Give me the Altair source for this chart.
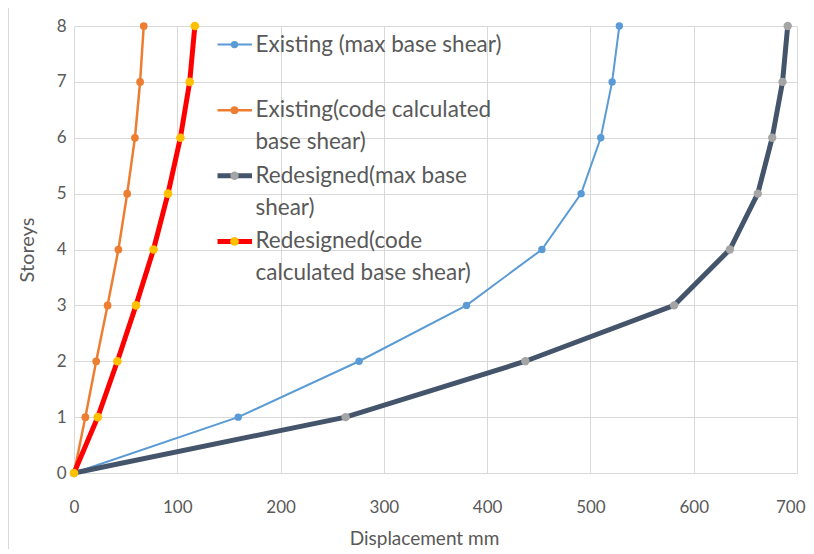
import altair as alt
import pandas as pd

# ---- data ----
storeys = [0, 1, 2, 3, 4, 5, 6, 7, 8]
existing_max = [0, 159, 276, 380, 453, 491, 510, 521, 528]
existing_code = [0, 11, 21.5, 32.5, 43, 51.5, 59, 64, 67.5]
redesigned_max = [0, 263, 437, 581, 635, 662, 676, 686, 691]
redesigned_code = [0, 23, 42, 60, 77, 91, 103, 112, 117]

series_names = [
    "Existing (max base shear)",
    "Existing(code calculated base shear)",
    "Redesigned(max base shear)",
    "Redesigned(code calculated base shear)",
]
legend_lines = [
    ["Existing (max base shear)"],
    ["Existing(code calculated", "base shear)"],
    ["Redesigned(max base", "shear)"],
    ["Redesigned(code", "calculated base shear)"],
]
x_ticks = [0, 100, 200, 300, 400, 500, 600, 700]
y_ticks = [0, 1, 2, 3, 4, 5, 6, 7, 8]

# ---- styles ----
line_colors = ["#5B9BD5", "#ED7D31", "#44546A", "#FF0000"]
marker_colors = ["#5B9BD5", "#ED7D31", "#A5A5A5", "#FFC000"]
line_widths = [2, 2.5, 5, 5]
marker_sizes = [55, 60, 70, 75]
FONT = "Lato"
TXT = "#595959"
GRID = "#D9D9D9"

values = [existing_max, existing_code, redesigned_max, redesigned_code]
rows = []
for name, vals in zip(series_names, values):
    for s, v in zip(storeys, vals):
        rows.append({"series": name, "storey": s, "disp": v})
df = pd.DataFrame(rows)

xscale = alt.Scale(domain=[0, 700], nice=False, zero=False)
yscale = alt.Scale(domain=[0, 8], nice=False)

x_enc = alt.X("disp:Q", scale=xscale,
              axis=alt.Axis(values=x_ticks, title="Displacement mm", titlePadding=14,
                            titleX=350, titleFontSize=19, labelFlush=False,
                            labelAlign=alt.ExprRef(expr="datum.value == 700 ? 'right' : 'center'"),
                            labelOffset=alt.ExprRef(expr="datum.value == 700 ? 8 : 0")))
y_enc = alt.Y("storey:Q", scale=yscale,
              axis=alt.Axis(values=y_ticks, title="Storeys", titlePadding=19,
                            titleFontSize=20, labelFlush=False))

layers = []
# chart-area border line on the left edge
border_df = pd.DataFrame({"edge": ["left"]})
layers.append(
    alt.Chart(border_df).mark_rule(color=GRID, strokeWidth=1, clip=False).encode(
        x=alt.value(-65.5), y=alt.value(-18), y2=alt.value(530)
    )
)

for i, name in enumerate(series_names):
    base = alt.Chart(df).transform_filter(alt.datum.series == name)
    layers.append(
        base.mark_line(color=line_colors[i], strokeWidth=line_widths[i]).encode(
            x=x_enc, y=y_enc, order="storey:Q"
        )
    )
    layers.append(
        base.mark_point(filled=True, opacity=1, color=marker_colors[i],
                        size=marker_sizes[i]).encode(x=x_enc, y=y_enc)
    )

# ---- manual legend (layout from row index) ----
leg_rows = []
txt_rows = []
for i, name in enumerate(series_names):
    leg_rows.append({"series": name, "row": i})
    for j, t in enumerate(legend_lines[i]):
        txt_rows.append({"series": name, "row": i, "line": j, "text": t})
leg_df = pd.DataFrame(leg_rows)
txt_df = pd.DataFrame(txt_rows)

for i, name in enumerate(series_names):
    lb = alt.Chart(leg_df).transform_filter(alt.datum.series == name).transform_calculate(
        ly="18.6 + 65.6 * datum.row"
    )
    layers.append(
        lb.mark_rule(color=line_colors[i], strokeWidth=line_widths[i]).encode(
            x=alt.value(143.5), x2=alt.value(178), y=alt.Y("ly:Q", scale=None)
        )
    )
    layers.append(
        lb.mark_point(filled=True, opacity=1, color=marker_colors[i],
                      size=marker_sizes[i]).encode(
            x=alt.value(160.5), y=alt.Y("ly:Q", scale=None)
        )
    )

legend_text = alt.Chart(txt_df).transform_calculate(
    ly="18.6 + 65.6 * datum.row + 31.7 * datum.line"
).mark_text(align="left", baseline="middle", font=FONT, fontSize=22.5, color=TXT).encode(
    x=alt.value(181.5), y=alt.Y("ly:Q", scale=None), text="text:N"
)
layers.append(legend_text)

chart = alt.layer(*layers).properties(
    width=723, height=447,
    background="white",
    autosize=alt.AutoSizeParams(type="none"),
    padding={"left": 66, "top": 18, "right": 9, "bottom": 76},
).configure_view(stroke=None).configure_axis(
    grid=True, gridColor=GRID, gridWidth=1, domain=False, ticks=False,
    labelFont=FONT, labelFontSize=17, labelColor=TXT,
    titleFont=FONT, titleFontSize=18, titleColor=TXT, titleFontWeight="normal",
).configure_axisX(labelPadding=26, domain=True, domainColor=GRID).configure_axisY(
    labelPadding=8
)

chart.save("out.html", embed_options={"renderer": "svg", "actions": False})
